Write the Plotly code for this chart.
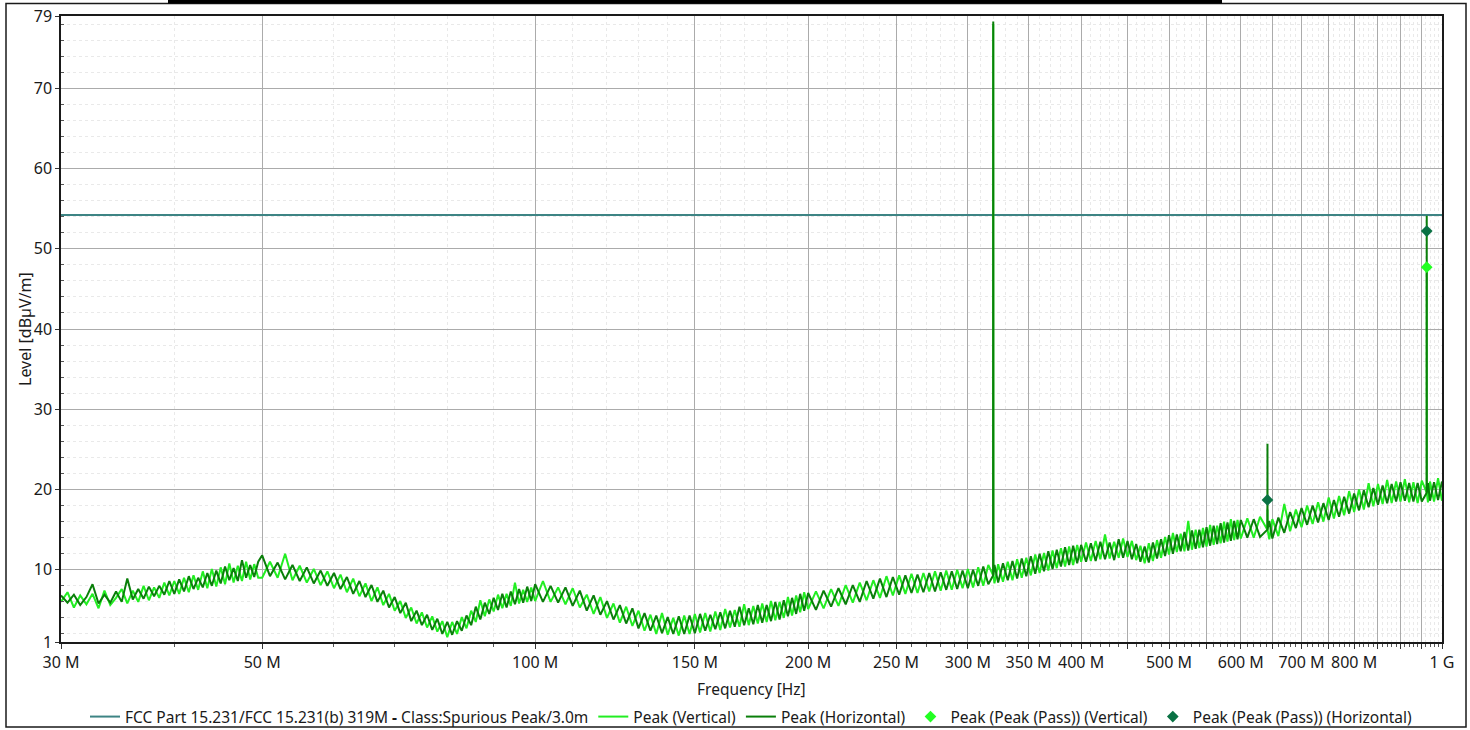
import plotly.graph_objects as go

# ---------------- data ----------------
# sweep frequencies in MHz
freq_mhz = [
    30.0, 30.5, 31.0, 31.5, 32.0, 32.5, 33.0, 33.5, 34.0, 34.5, 35.0, 35.5, 36.0, 36.5, 37.0, 37.5,
    38.0, 38.5, 39.0, 39.5, 40.0, 40.5, 41.0, 41.5, 42.0, 42.5, 43.0, 43.5, 44.0, 44.5, 45.0, 45.5,
    46.0, 46.5, 47.0, 47.5, 48.0, 48.5, 49.0, 49.5,
    50, 51, 52, 53, 54, 55, 56, 57, 58, 59, 60, 61, 62, 63, 64, 65, 66, 67, 68, 69, 70, 71, 72, 73,
    74, 75, 76, 77, 78, 79, 80, 81, 82, 83, 84, 85, 86, 87, 88, 89, 90, 91, 92, 93, 94, 95, 96, 97,
    98, 99,
    100, 102, 104, 106, 108, 110, 112, 114, 116, 118, 120, 122, 124, 126, 128, 130, 132, 134, 136,
    138, 140, 142, 144, 146, 148, 150, 152, 154, 156, 158, 160, 162, 164, 166, 168, 170, 172, 174,
    176, 178, 180, 182, 184, 186, 188, 190, 192, 194, 196, 198,
    200, 204, 208, 212, 216, 220, 224, 228, 232, 236, 240, 244, 248, 252, 256, 260, 264, 268, 272,
    276, 280, 284, 288, 292, 296, 300, 304, 308, 312, 316, 319.9, 320.0, 320.1, 321, 324, 328, 332,
    336, 340, 344, 348, 352, 356, 360, 364, 368, 372, 376, 380, 384, 388, 392, 396,
    400, 405, 410, 415, 420, 425, 430, 435, 440, 445, 450, 455, 460, 465, 470, 475, 480, 485, 490,
    495, 500, 505, 510, 515, 520, 525, 530, 535, 540, 545, 550, 555, 560, 565, 570, 575, 580, 585,
    590, 595,
    600, 610, 620, 630, 641.9, 642, 642.1, 645, 650, 660, 670, 680, 690, 700, 710, 720, 730, 740,
    750, 760, 770, 780, 790, 800, 810, 820, 830, 840, 850, 860, 870, 880, 890, 900, 910, 920, 930,
    940, 950, 961.9, 962, 962.1, 965, 970, 980, 990, 1000,
]

# Peak (Horizontal) level, dBuV/m
peak_horizontal = [
    6.8, 5.9, 6.9, 5.6, 6.6, 8.2, 5.8, 6.9, 5.9, 7.3, 6.0, 8.9, 6.3, 7.6, 6.4, 7.9,
    6.7, 8.0, 6.9, 8.6, 7.0, 8.8, 7.3, 9.2, 7.6, 9.0, 7.8, 9.6, 8.0, 9.9, 8.3, 10.4,
    8.7, 10.2, 8.6, 11.2, 9.0, 10.6, 9.1, 11.0,
    11.8, 9.2, 10.9, 8.8, 10.6, 8.6, 10.3, 8.3, 9.9, 8.0, 9.6, 7.6, 9.1, 7.0, 8.6, 6.6, 8.1, 6.0,
    7.4, 5.3, 6.6, 4.6, 5.9, 3.6, 4.9, 3.1, 4.4, 2.5, 3.9, 2.0, 3.5, 1.9, 3.6, 2.4, 4.3, 3.1, 5.4,
    3.8, 5.9, 4.5, 6.5, 5.0, 7.0, 5.3, 7.3, 5.7, 7.6, 5.9, 7.9, 6.1,
    8.2, 6.0, 8.0, 5.9, 7.8, 5.5, 7.4, 4.9, 6.8, 4.4, 6.1, 3.8, 5.6, 3.3, 5.2, 2.7, 4.6, 2.4, 4.3,
    2.1, 4.1, 2.0, 4.2, 2.0, 4.3, 2.1, 4.5, 2.4, 4.4, 2.6, 4.7, 2.7, 4.9, 2.9, 5.4, 3.1, 5.2, 3.2,
    5.6, 3.4, 5.6, 3.6, 6.0, 3.8, 6.2, 4.2, 6.5, 4.5, 7.0, 4.9,
    7.1, 5.0, 7.4, 5.4, 7.7, 5.7, 8.1, 6.0, 8.6, 6.4, 8.9, 6.6, 9.1, 6.9, 9.3, 7.1, 9.4, 7.2, 9.6,
    7.3, 9.7, 7.5, 9.8, 7.6, 9.9, 7.7, 10.0, 8.0, 10.4, 8.2, 9.3, 78.3, 9.3, 10.6, 8.4, 10.8, 8.7,
    11.1, 8.9, 11.4, 9.2, 11.7, 9.5, 12.0, 9.8, 12.3, 10.1, 12.5, 10.4, 12.8, 10.6, 13.0, 10.8,
    13.1, 11.0, 13.3, 11.1, 13.5, 11.3, 13.4, 11.2, 13.8, 11.5, 13.6, 11.3, 13.2, 11.0, 12.9, 10.9,
    13.4, 11.4, 13.8, 11.7, 14.3, 12.0, 14.4, 12.3, 14.7, 12.4, 14.9, 12.6, 15.0, 12.8, 15.3, 13.0,
    15.5, 13.2, 15.8, 13.4, 15.9, 13.6, 16.1, 13.8,
    16.2, 14.0, 16.3, 14.1, 15.0, 25.7, 15.0, 16.1, 13.9, 16.5, 14.6, 17.2, 15.2, 17.7, 15.6, 18.0,
    15.9, 18.3, 16.2, 18.7, 16.6, 19.1, 17.0, 19.5, 17.4, 19.9, 17.8, 20.2, 18.1, 20.5, 18.3, 20.7,
    18.5, 20.9, 18.6, 20.8, 18.5, 20.8, 18.5, 19.6, 54.1, 19.6, 20.8, 18.6, 20.9, 18.7, 21.0,
]

# Peak (Vertical) level, dBuV/m
peak_vertical = [
    6.0, 7.2, 5.3, 6.8, 5.7, 7.0, 5.2, 7.4, 5.6, 6.5, 7.6, 5.8, 7.4, 6.0, 8.0, 6.2,
    7.8, 6.5, 8.4, 6.8, 8.6, 7.0, 9.0, 7.2, 9.3, 7.5, 9.8, 7.7, 10.1, 7.9, 10.3, 8.2,
    10.8, 8.4, 10.5, 8.6, 11.0, 8.8, 10.7, 9.0,
    9.0, 11.0, 9.0, 12.0, 8.7, 10.5, 8.4, 10.1, 8.1, 9.8, 7.7, 9.4, 7.2, 8.9, 6.7, 8.3, 6.1, 7.8,
    5.6, 7.0, 4.9, 6.1, 4.0, 5.3, 3.3, 4.7, 2.8, 4.2, 2.3, 3.6, 1.6, 3.5, 2.0, 4.1, 2.7, 4.9, 3.5,
    6.2, 4.2, 6.3, 4.8, 6.9, 5.2, 7.0, 5.5, 8.4, 5.8, 7.5, 6.0, 7.8,
    6.1, 8.6, 6.0, 7.8, 5.7, 7.7, 5.3, 6.9, 4.5, 6.6, 4.0, 5.8, 3.4, 5.4, 3.0, 4.9, 2.4, 4.4, 2.0,
    4.6, 1.9, 4.0, 1.8, 4.3, 2.0, 4.5, 2.2, 4.6, 2.3, 4.8, 2.5, 5.1, 2.8, 5.0, 2.9, 5.7, 3.1, 5.5,
    3.3, 5.8, 3.5, 6.1, 3.7, 6.0, 4.0, 6.6, 4.3, 6.8, 4.7, 7.2,
    5.1, 7.3, 5.2, 7.6, 5.5, 8.1, 5.9, 8.4, 6.2, 8.7, 6.5, 9.2, 6.8, 9.3, 7.0, 9.5, 7.1, 9.6, 7.3,
    9.8, 7.4, 9.9, 7.5, 10.0, 7.7, 10.1, 7.8, 10.3, 8.0, 10.6, 9.3, 78.0, 9.3, 8.3, 10.7, 8.5, 11.0,
    8.7, 11.3, 9.0, 11.5, 9.3, 11.9, 9.6, 12.1, 9.9, 12.4, 10.2, 12.7, 10.4, 12.9, 10.6, 13.1,
    11.0, 13.4, 11.1, 13.6, 11.3, 14.4, 11.4, 13.5, 11.5, 13.9, 11.6, 13.6, 11.2, 13.0, 10.8, 13.3,
    11.1, 13.7, 11.5, 14.1, 11.9, 14.6, 12.2, 14.5, 12.3, 16.1, 12.5, 15.0, 12.7, 15.2, 12.9, 15.6,
    13.1, 15.5, 13.3, 16.0, 13.5, 16.3, 13.7, 16.2,
    13.9, 16.4, 14.0, 16.6, 15.0, 17.5, 15.0, 13.8, 16.3, 14.2, 18.2, 14.8, 17.5, 15.3, 18.0, 15.7,
    18.4, 16.0, 19.0, 16.4, 19.2, 16.8, 19.8, 17.2, 20.0, 17.5, 20.8, 17.9, 20.7, 18.2, 21.2, 18.3,
    21.0, 18.5, 21.3, 18.4, 20.9, 18.3, 21.1, 19.6, 47.7, 19.6, 18.4, 21.0, 18.5, 21.4, 18.6,
]

# limit line
limit_freq_mhz = [30, 1000]
limit_level = [54.2, 54.2]

# final peak measurements
pass_v_freq_mhz = [962]
pass_v_level = [47.7]
pass_h_freq_mhz = [642, 962]
pass_h_level = [18.7, 52.2]

# axis ticks
x_tick_mhz = [30, 50, 100, 150, 200, 250, 300, 350, 400, 500, 600, 700, 800, 1000]
x_tick_text = ["30 M", "50 M", "100 M", "150 M", "200 M", "250 M", "300 M", "350 M",
               "400 M", "500 M", "600 M", "700 M", "800 M", "1 G"]
x_extra_major_mhz = [450, 550, 650, 750, 850, 900, 950]
x_minor_mhz = [m for m in range(40, 1000, 10) if m not in x_tick_mhz and m not in x_extra_major_mhz]
y_tick_vals = [1, 10, 20, 30, 40, 50, 60, 70, 79]
y_minor_vals = [v for v in range(2, 79, 2) if v % 10 != 0]

# ---------------- figure ----------------
MHZ = 1e6
def hz(lst):
    return [f * MHZ for f in lst]

FONT = "Noto Sans, Open Sans, sans-serif"
TXT = "#1a1a1a"

fig = go.Figure()
fig.add_trace(go.Scatter(
    x=hz(limit_freq_mhz), y=limit_level, mode="lines",
    name="FCC Part 15.231/FCC 15.231(b) 319M <b>-</b> Class:Spurious Peak/3.0m",
    line=dict(color="#3d8484", width=2)))
fig.add_trace(go.Scatter(
    x=hz(freq_mhz), y=peak_vertical, mode="lines", name="Peak (Vertical)",
    line=dict(color="#22ee22", width=2)))
fig.add_trace(go.Scatter(
    x=hz(freq_mhz), y=peak_horizontal, mode="lines", name="Peak (Horizontal)",
    line=dict(color="#0a7f0a", width=2)))
fig.add_trace(go.Scatter(
    x=hz(pass_v_freq_mhz), y=pass_v_level, mode="markers",
    name="Peak (Peak (Pass)) (Vertical)",
    marker=dict(symbol="diamond", size=9, color="#22ff22")))
fig.add_trace(go.Scatter(
    x=hz(pass_h_freq_mhz), y=pass_h_level, mode="markers",
    name="Peak (Peak (Pass)) (Horizontal)",
    marker=dict(symbol="diamond", size=9, color="#0a7244")))

# layout geometry (pixels)
W, H = 1470, 730
L, R, T, B = 61, 28, 16, 88
PW, PH = W - L - R, H - T - B
def px_x(p):
    return (p - L) / PW
def px_y(p):
    return (H - B - p) / PH

all_major = sorted(x_tick_mhz + x_extra_major_mhz)
all_major_text = [x_tick_text[x_tick_mhz.index(m)] if m in x_tick_mhz else "" for m in all_major]

fig.update_xaxes(
    type="log", range=[7.4771213, 9.0],
    tickmode="array", tickvals=hz(all_major), ticktext=all_major_text,
    showgrid=True, gridcolor="#ababab", gridwidth=1,
    showline=True, linecolor=TXT, linewidth=1.5, mirror=True,
    ticks="outside", ticklen=5, tickcolor="#333333",
    tickfont=dict(family=FONT, size=16, color=TXT),
    minor=dict(tickmode="array", tickvals=hz(x_minor_mhz), showgrid=True,
               gridcolor="#e9e9e9", griddash="3px,3px", gridwidth=1,
               ticks="outside", ticklen=3, tickcolor="#555555"),
    zeroline=False,
)
fig.update_yaxes(
    range=[1, 79], tickmode="array", tickvals=y_tick_vals,
    ticktext=[str(v) for v in y_tick_vals],
    showgrid=True, gridcolor="#ababab", gridwidth=1,
    showline=True, linecolor=TXT, linewidth=1.5, mirror=True,
    ticks="outside", ticklen=4, tickcolor="#333333",
    tickfont=dict(family=FONT, size=16, color=TXT),
    minor=dict(tickmode="array", tickvals=y_minor_vals, showgrid=True,
               gridcolor="#e9e9e9", griddash="3px,3px", gridwidth=1,
               ticks="inside", ticklen=3, tickcolor="#555555"),
    zeroline=False,
)

fig.update_layout(
    width=W, height=H,
    margin=dict(l=L, r=R, t=T, b=B, autoexpand=False),
    paper_bgcolor="white", plot_bgcolor="white",
    font=dict(family=FONT, size=15, color=TXT),
    showlegend=True,
    legend=dict(orientation="h", x=0.5, xanchor="center", y=px_y(717), yanchor="middle",
                font=dict(family=FONT, size=15.5, color=TXT),
                itemwidth=30, tracegroupgap=0, bgcolor="rgba(0,0,0,0)"),
    annotations=[
        dict(text="Frequency [Hz]", xref="paper", yref="paper", x=0.5, y=px_y(689),
             xanchor="center", yanchor="middle", showarrow=False,
             font=dict(family=FONT, size=15.5, color=TXT)),
        dict(text="Level [dBµV/m]", xref="paper", yref="paper", x=px_x(25), y=0.5,
             xanchor="center", yanchor="middle", textangle=-90, showarrow=False,
             font=dict(family=FONT, size=16, color=TXT)),
    ],
    shapes=[
        dict(type="rect", xref="paper", yref="paper", x0=px_x(6), x1=px_x(1466),
             y0=px_y(727), y1=px_y(3.5), line=dict(color=TXT, width=1.5),
             fillcolor="rgba(0,0,0,0)", layer="below"),
        dict(type="rect", xref="paper", yref="paper", x0=px_x(168), x1=px_x(1222),
             y0=px_y(3.5), y1=px_y(0), line=dict(width=0), fillcolor="black"),
    ],
)

fig.write_html("out.html", config={"displayModeBar": False},
               post_script="document.body.style.margin='0';document.body.style.overflow='hidden';")
